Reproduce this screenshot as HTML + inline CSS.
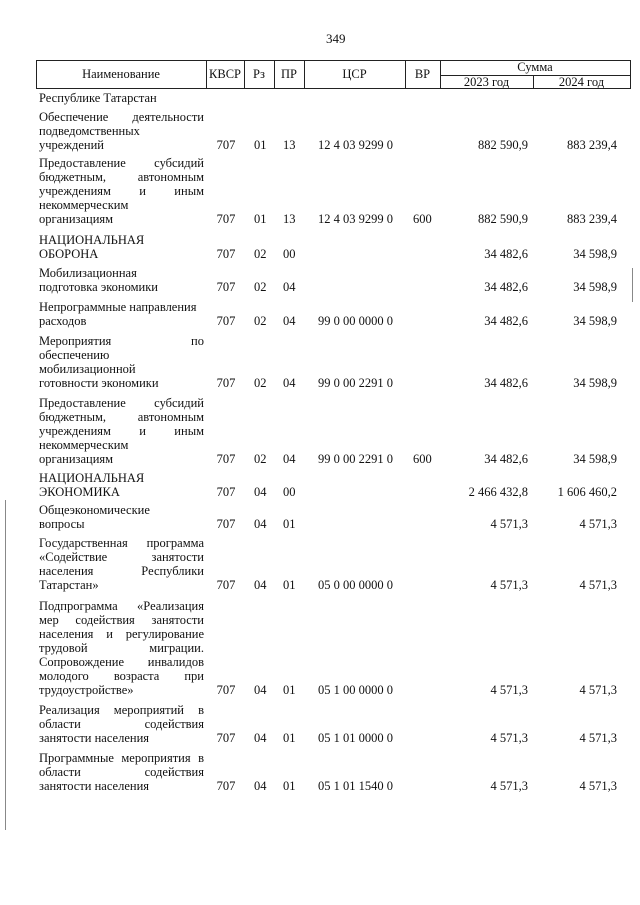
<!DOCTYPE html>
<html><head><meta charset="utf-8"><style>
body{margin:0;width:640px;height:905px;background:#fff;position:relative;overflow:hidden;font-family:"Liberation Serif",serif;font-size:12.5px;color:#111}
.a{position:absolute;white-space:nowrap;line-height:14px}
.n{position:absolute;left:39px;width:165px;line-height:14px;text-align:justify}
.n span{display:block;text-align-last:justify}
.n span.l{text-align-last:left}
.h{position:absolute;background:#222}
.r{text-align:right}
.c{text-align:center}
</style></head><body>
<div class="a" style="left:326px;top:32px;font-size:13px">349</div>
<!-- header lines -->
<div class="h" style="left:36px;top:60px;width:595px;height:1px"></div>
<div class="h" style="left:36px;top:88px;width:595px;height:1px"></div>
<div class="h" style="left:440px;top:75px;width:191px;height:1px"></div>
<div class="h" style="left:36px;top:60px;width:1px;height:29px"></div>
<div class="h" style="left:206px;top:60px;width:1px;height:29px"></div>
<div class="h" style="left:244px;top:60px;width:1px;height:29px"></div>
<div class="h" style="left:274px;top:60px;width:1px;height:29px"></div>
<div class="h" style="left:304px;top:60px;width:1px;height:29px"></div>
<div class="h" style="left:405px;top:60px;width:1px;height:29px"></div>
<div class="h" style="left:440px;top:60px;width:1px;height:29px"></div>
<div class="h" style="left:533px;top:75px;width:1px;height:14px"></div>
<div class="h" style="left:630px;top:60px;width:1px;height:29px"></div>
<div class="a c" style="left:36px;width:170px;top:67px">Наименование</div>
<div class="a c" style="left:206px;width:38px;top:67px">КВСР</div>
<div class="a c" style="left:244px;width:30px;top:67px">Рз</div>
<div class="a c" style="left:274px;width:30px;top:67px">ПР</div>
<div class="a c" style="left:304px;width:101px;top:67px">ЦСР</div>
<div class="a c" style="left:405px;width:35px;top:67px">ВР</div>
<div class="a c" style="left:440px;width:190px;top:60px">Сумма</div>
<div class="a c" style="left:440px;width:93px;top:75px">2023 год</div>
<div class="a c" style="left:533px;width:97px;top:75px">2024 год</div>
<!-- scan artifacts -->
<div class="h" style="left:5px;top:500px;width:1px;height:330px;background:#888"></div>
<div class="h" style="left:632px;top:268px;width:1px;height:34px;background:#888"></div>

<div class="a" style="left:39px;top:91px">Республике Татарстан</div>

<div class="n" style="top:110px"><span>Обеспечение деятельности</span><span class="l">подведомственных</span><span class="l">учреждений</span></div>
<div class="a" style="top:138px;left:0;width:640px">
<span class="a c" style="left:206px;width:40px">707</span><span class="a" style="left:254px">01</span><span class="a" style="left:283px">13</span><span class="a" style="left:318px">12 4 03 9299 0</span><span class="a r" style="left:430px;width:98px">882 590,9</span><span class="a r" style="left:520px;width:97px">883 239,4</span></div>

<div class="n" style="top:156px"><span>Предоставление субсидий</span><span>бюджетным, автономным</span><span>учреждениям и иным</span><span class="l">некоммерческим</span><span class="l">организациям</span></div>
<div class="a" style="top:212px;left:0;width:640px">
<span class="a c" style="left:206px;width:40px">707</span><span class="a" style="left:254px">01</span><span class="a" style="left:283px">13</span><span class="a" style="left:318px">12 4 03 9299 0</span><span class="a" style="left:413px">600</span><span class="a r" style="left:430px;width:98px">882 590,9</span><span class="a r" style="left:520px;width:97px">883 239,4</span></div>

<div class="n" style="top:233px"><span class="l">НАЦИОНАЛЬНАЯ</span><span class="l">ОБОРОНА</span></div>
<div class="a" style="top:247px;left:0;width:640px">
<span class="a c" style="left:206px;width:40px">707</span><span class="a" style="left:254px">02</span><span class="a" style="left:283px">00</span><span class="a r" style="left:430px;width:98px">34 482,6</span><span class="a r" style="left:520px;width:97px">34 598,9</span></div>

<div class="n" style="top:266px"><span class="l">Мобилизационная</span><span class="l">подготовка экономики</span></div>
<div class="a" style="top:280px;left:0;width:640px">
<span class="a c" style="left:206px;width:40px">707</span><span class="a" style="left:254px">02</span><span class="a" style="left:283px">04</span><span class="a r" style="left:430px;width:98px">34 482,6</span><span class="a r" style="left:520px;width:97px">34 598,9</span></div>

<div class="n" style="top:300px"><span class="l">Непрограммные направления</span><span class="l">расходов</span></div>
<div class="a" style="top:314px;left:0;width:640px">
<span class="a c" style="left:206px;width:40px">707</span><span class="a" style="left:254px">02</span><span class="a" style="left:283px">04</span><span class="a" style="left:318px">99 0 00 0000 0</span><span class="a r" style="left:430px;width:98px">34 482,6</span><span class="a r" style="left:520px;width:97px">34 598,9</span></div>

<div class="n" style="top:334px"><span>Мероприятия по</span><span class="l">обеспечению</span><span class="l">мобилизационной</span><span class="l">готовности экономики</span></div>
<div class="a" style="top:376px;left:0;width:640px">
<span class="a c" style="left:206px;width:40px">707</span><span class="a" style="left:254px">02</span><span class="a" style="left:283px">04</span><span class="a" style="left:318px">99 0 00 2291 0</span><span class="a r" style="left:430px;width:98px">34 482,6</span><span class="a r" style="left:520px;width:97px">34 598,9</span></div>

<div class="n" style="top:396px"><span>Предоставление субсидий</span><span>бюджетным, автономным</span><span>учреждениям и иным</span><span class="l">некоммерческим</span><span class="l">организациям</span></div>
<div class="a" style="top:452px;left:0;width:640px">
<span class="a c" style="left:206px;width:40px">707</span><span class="a" style="left:254px">02</span><span class="a" style="left:283px">04</span><span class="a" style="left:318px">99 0 00 2291 0</span><span class="a" style="left:413px">600</span><span class="a r" style="left:430px;width:98px">34 482,6</span><span class="a r" style="left:520px;width:97px">34 598,9</span></div>

<div class="n" style="top:471px"><span class="l">НАЦИОНАЛЬНАЯ</span><span class="l">ЭКОНОМИКА</span></div>
<div class="a" style="top:485px;left:0;width:640px">
<span class="a c" style="left:206px;width:40px">707</span><span class="a" style="left:254px">04</span><span class="a" style="left:283px">00</span><span class="a r" style="left:430px;width:98px">2 466 432,8</span><span class="a r" style="left:520px;width:97px">1 606 460,2</span></div>

<div class="n" style="top:503px"><span class="l">Общеэкономические</span><span class="l">вопросы</span></div>
<div class="a" style="top:517px;left:0;width:640px">
<span class="a c" style="left:206px;width:40px">707</span><span class="a" style="left:254px">04</span><span class="a" style="left:283px">01</span><span class="a r" style="left:430px;width:98px">4 571,3</span><span class="a r" style="left:520px;width:97px">4 571,3</span></div>

<div class="n" style="top:536px"><span>Государственная программа</span><span>«Содействие занятости</span><span>населения Республики</span><span class="l">Татарстан»</span></div>
<div class="a" style="top:578px;left:0;width:640px">
<span class="a c" style="left:206px;width:40px">707</span><span class="a" style="left:254px">04</span><span class="a" style="left:283px">01</span><span class="a" style="left:318px">05 0 00 0000 0</span><span class="a r" style="left:430px;width:98px">4 571,3</span><span class="a r" style="left:520px;width:97px">4 571,3</span></div>

<div class="n" style="top:599px"><span>Подпрограмма «Реализация</span><span>мер содействия занятости</span><span>населения и регулирование</span><span>трудовой миграции.</span><span>Сопровождение инвалидов</span><span>молодого возраста при</span><span class="l">трудоустройстве»</span></div>
<div class="a" style="top:683px;left:0;width:640px">
<span class="a c" style="left:206px;width:40px">707</span><span class="a" style="left:254px">04</span><span class="a" style="left:283px">01</span><span class="a" style="left:318px">05 1 00 0000 0</span><span class="a r" style="left:430px;width:98px">4 571,3</span><span class="a r" style="left:520px;width:97px">4 571,3</span></div>

<div class="n" style="top:703px"><span>Реализация мероприятий в</span><span>области содействия</span><span class="l">занятости населения</span></div>
<div class="a" style="top:731px;left:0;width:640px">
<span class="a c" style="left:206px;width:40px">707</span><span class="a" style="left:254px">04</span><span class="a" style="left:283px">01</span><span class="a" style="left:318px">05 1 01 0000 0</span><span class="a r" style="left:430px;width:98px">4 571,3</span><span class="a r" style="left:520px;width:97px">4 571,3</span></div>

<div class="n" style="top:751px"><span>Программные мероприятия в</span><span>области содействия</span><span class="l">занятости населения</span></div>
<div class="a" style="top:779px;left:0;width:640px">
<span class="a c" style="left:206px;width:40px">707</span><span class="a" style="left:254px">04</span><span class="a" style="left:283px">01</span><span class="a" style="left:318px">05 1 01 1540 0</span><span class="a r" style="left:430px;width:98px">4 571,3</span><span class="a r" style="left:520px;width:97px">4 571,3</span></div>
</body></html>
